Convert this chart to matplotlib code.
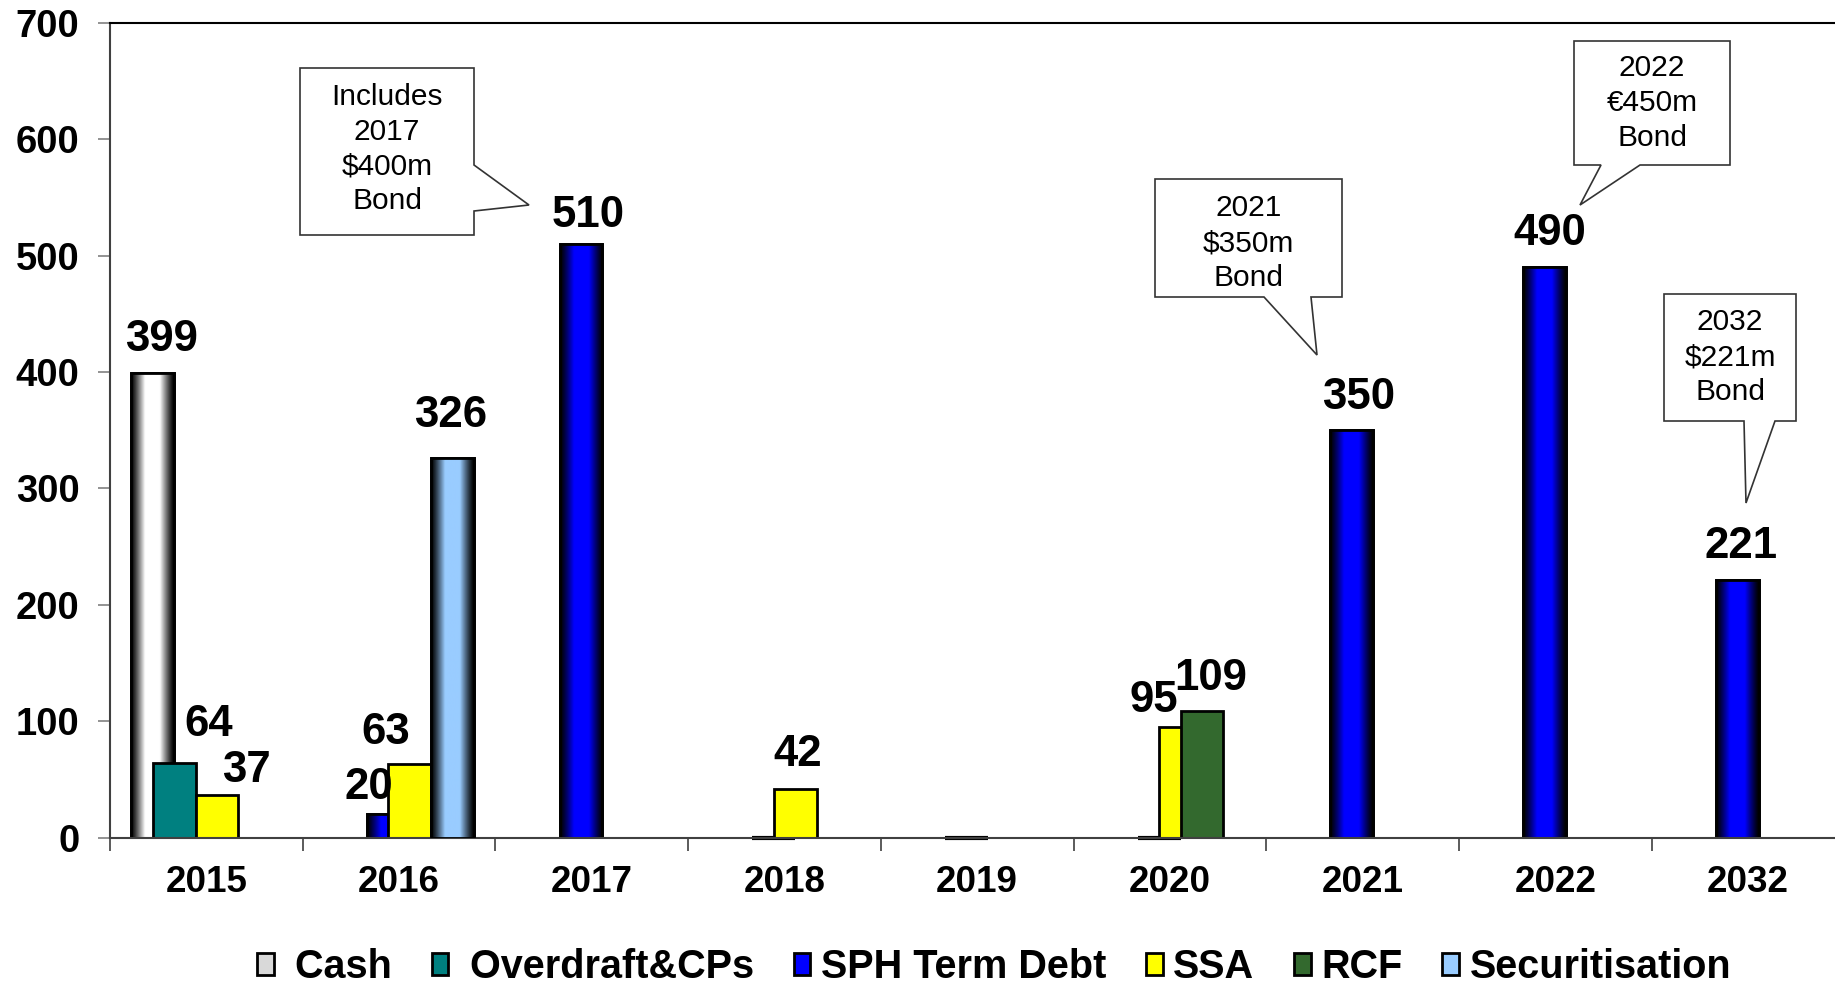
import numpy as np
import matplotlib
matplotlib.use("Agg")
import matplotlib.pyplot as plt
from matplotlib.patches import Patch, Polygon

plt.rcParams["font.family"] = ["Liberation Sans", "DejaVu Sans"]

# ---- data -------------------------------------------------------------
years = ["2015", "2016", "2017", "2018", "2019", "2020", "2021", "2022", "2032"]
nan = np.nan
cash = [399, nan, nan, nan, nan, nan, nan, nan, nan]
overdraft = [64, nan, nan, nan, nan, nan, nan, nan, nan]
sph_term_debt = [nan, 20, 510, 0, 0, 0, 350, 490, 221]
ssa = [37, 63, nan, 42, nan, 95, nan, nan, nan]
rcf = [nan, nan, nan, nan, nan, 109, nan, nan, nan]
securitisation = [nan, 326, nan, nan, nan, nan, nan, nan, nan]

series_names = [" Cash", " Overdraft&CPs", "SPH Term Debt", "SSA", "RCF", "Securitisation"]
series_values = [cash, overdraft, sph_term_debt, ssa, rcf, securitisation]

# flat colour, gradient centre colour (None = flat)
series_colors = ["#d9d9d9", "#008080", "#0000ff", "#ffff00", "#33692e", "#99ccff"]
gradient_centers = [(1.0, 1.0, 1.0), None, (0.0, 0.0, 1.0), None, None, (0.6, 0.8, 1.0)]

callouts = [
    ("Includes\n2017\n$400m\nBond", "2017"),
    ("2021\n$350m\nBond", "2021"),
    ("2022\n€450m\nBond", "2022"),
    ("2032\n$221m\nBond", "2032"),
]

# ---- layout (pixels of the 1835x986 figure) ---------------------------
W, H = 1835, 986
fig = plt.figure(figsize=(W / 100, H / 100), dpi=100)
# the plot area runs a little past the right edge of the picture
ax = fig.add_axes([110 / W, 1 - 837.7 / H, 9 * 192.7 / W, (837.7 - 22.7) / H])

n_series = len(series_names)
step = 0.111
bar_w = 0.222
x = np.arange(len(years))


def px_to_pt(v):
    return v * 0.72


# label offsets in pixels (dx, dy above bar top)
label_offsets = {
    (0, 0): (9, 34), (1, 0): (34, 39), (3, 0): (29, 24),
    (2, 1): (-20, 27), (3, 1): (-24, 32), (5, 1): (-2, 43),
    (2, 2): (7, 28), (3, 3): (3, 34),
    (3, 5): (-27, 27), (4, 5): (9, 32),
    (2, 6): (7, 33), (2, 7): (5, 34), (2, 8): (4, 34),
}


def gradient_image(center):
    t = np.abs(np.linspace(-1, 1, 64))
    f = np.clip(1 - (t - 0.35) / 0.65, 0, 1) ** 1.2
    c = np.array(center)
    img = f[:, None] * c[None, :]
    return img[None, :, :]


for i, (name, vals) in enumerate(zip(series_names, series_values)):
    offs = (i - (n_series - 1) / 2) * step
    z = 2 + i * 0.1
    vals = np.array(vals, dtype=float)
    mask = ~np.isnan(vals)
    bars = ax.bar(x[mask] + offs, vals[mask], width=bar_w, color=series_colors[i],
                  edgecolor="black", linewidth=2, zorder=z)
    if gradient_centers[i] is not None:
        img = gradient_image(gradient_centers[i])
        for b in bars:
            if b.get_height() <= 0:
                continue
            im = ax.imshow(img, extent=[b.get_x(), b.get_x() + b.get_width(), 0, b.get_height()],
                           aspect="auto", interpolation="bilinear", zorder=z + 0.01)
            im.set_clip_path(b)
        ax.bar(x[mask] + offs, vals[mask], width=bar_w, facecolor="none",
               edgecolor="black", linewidth=2, zorder=z + 0.02)
    # zero-height bars still show as a flat black line on the axis
    for b in bars:
        if b.get_height() == 0:
            ax.hlines(0, b.get_x(), b.get_x() + b.get_width(), colors="black",
                      linewidth=3, zorder=z + 0.03, clip_on=False)
    for xi, v in zip(x[mask], vals[mask]):
        if v <= 0:
            continue
        dx, dy = label_offsets.get((i, xi), (0, 34))
        ax.annotate(f"{v:.0f}", (xi + offs, v), xytext=(px_to_pt(dx), px_to_pt(dy)),
                    textcoords="offset points", ha="center", va="center",
                    fontsize=31.5, fontweight="bold", zorder=5)

ax.set_xlim(-0.5, len(years) - 0.5)
ax.set_ylim(0, 700)
ax.set_yticks(np.arange(0, 701, 100))
ax.set_xticks(x)
ax.set_xticklabels(years)
ax.set_xticks(np.arange(len(years) + 1) - 0.5, minor=True)
ax.tick_params(axis="x", which="major", length=0, pad=20, labelsize=26.5)
ax.tick_params(axis="x", which="minor", length=9, width=1.2, color="#404040", direction="out")
ax.tick_params(axis="y", length=9, width=1.2, color="#808080", pad=13, labelsize=27.5)
for lab in ax.get_xticklabels() + ax.get_yticklabels():
    lab.set_fontweight("bold")

ax.spines["right"].set_visible(False)
ax.spines["top"].set_color("black")
ax.spines["top"].set_linewidth(1.5)
ax.spines["left"].set_color("#404040")
ax.spines["left"].set_linewidth(1.5)
ax.spines["bottom"].set_color("#404040")
ax.spines["bottom"].set_linewidth(1.5)

# ---- callouts ---------------------------------------------------------
# box (x0, y0, x1, y1), pointer points, text centre y
callout_shapes = {
    "2017": ((300, 68, 474, 235), [(474, 68), (474, 165), (529, 205), (474, 211), (474, 235)], 149),
    "2021": ((1155, 179, 1342, 297), [(1342, 297), (1311, 297), (1317, 355), (1264, 297)], 243),
    "2022": ((1574, 41, 1730, 165), [(1730, 165), (1640, 165), (1580, 205), (1601, 165)], 103),
    "2032": ((1664, 294, 1796, 421), [(1796, 421), (1775, 421), (1746, 503), (1744, 421)], 357),
}


def fpx(p):
    return (p[0] / W, 1 - p[1] / H)


for text, key in callouts:
    (x0, y0, x1, y1), ptr, ty = callout_shapes[key]
    if key == "2017":
        pts = [(x0, y0)] + ptr + [(x0, y1)]
    else:
        pts = [(x0, y0), (x1, y0)] + ptr + [(x0, y1)]
    fig.patches.append(Polygon([fpx(p) for p in pts], closed=True, transform=fig.transFigure,
                               facecolor="white", edgecolor="#333333", linewidth=1.2, zorder=10))
    fig.text((x0 + x1) / 2 / W, 1 - ty / H, text, ha="center", va="center",
             fontsize=21.5, linespacing=1.31, zorder=11)

# ---- legend -----------------------------------------------------------
handles = [Patch(facecolor=c, edgecolor="black", linewidth=2) for c in series_colors]
fig.legend(handles, series_names, loc="center", bbox_to_anchor=(994 / W, 1 - 967 / H),
           ncol=n_series, frameon=False, handlelength=0.42, handleheight=0.48,
           handletextpad=0.27, columnspacing=1.0, borderpad=0,
           prop={"size": 28.5, "weight": "bold"})

fig.savefig("out.png", dpi=100)
